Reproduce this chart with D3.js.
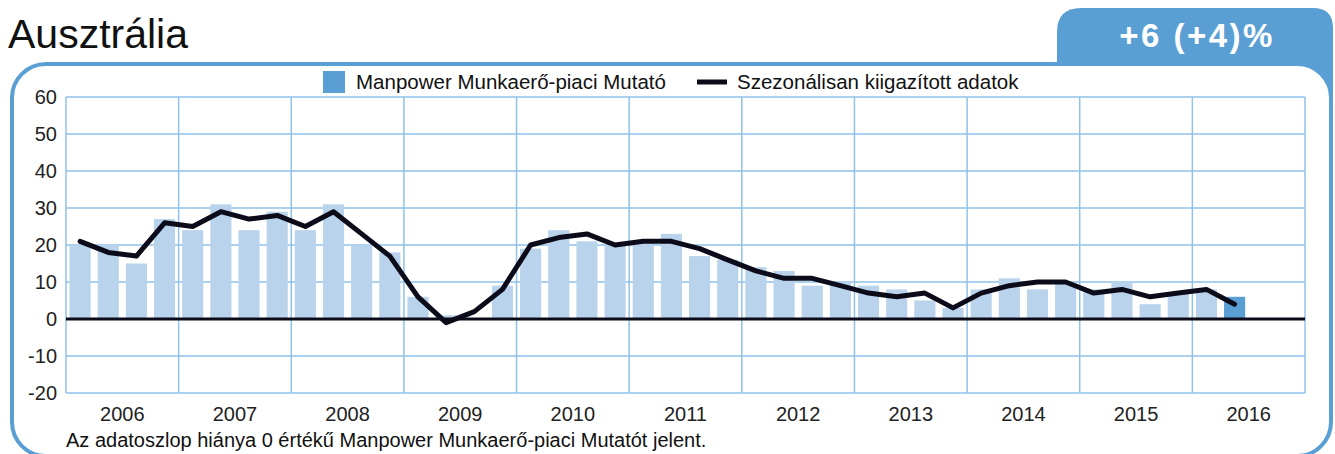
<!DOCTYPE html>
<html>
<head>
<meta charset="utf-8">
<script src="https://cdn.jsdelivr.net/npm/d3@7"></script>
<style>
  body { margin: 0; background: #fff; }
  svg { display: block; font-family: "Liberation Sans", Arial, sans-serif; }
</style>
</head>
<body>
<svg id="chart" width="1335" height="454"></svg>
<script>
// quarters 2006 Q1 .. 2016 Q4
var years = ["2006","2007","2008","2009","2010","2011","2012","2013","2014","2015","2016"];
var quarters = [];
years.forEach(function(y) { [1,2,3,4].forEach(function(q) { quarters.push(y + "Q" + q); }); });

// Manpower Munkaerő-piaci Mutató (bars), 2006Q1 - 2016Q2
var mmiValues = [20,20,15,27, 24,31,24,29, 24,31,20,18, 6,1,0,9,
                 19,24,21,20, 21,23,17,16, 14,13,9,10, 9,8,5,3,
                 8,11,8,10, 8,10,4,7, 8,6];
// Szezonálisan kiigazított adatok (line)
var saValues = [21,18,17,26, 25,29,27,28, 25,29,23,17, 6,-1,2,8,
                20,22,23,20, 21,21,19,16, 13,11,11,9, 7,6,7,3,
                7,9,10,10, 7,8,6,7, 8,4];
var yTicks = [-20,-10,0,10,20,30,40,50,60];

var svg = d3.select("#chart");
var blue = "#5a9fd4", lightBlue = "#b8d3eb", gridBlue = "#90c2e8", ink = "#0b0b1a";

var margin = {left: 66, right: 30, top: 97, bottom: 62};
var width = 1305 - margin.left, height = 393 - margin.top;

// tab + frame
svg.append("path")
  .attr("d", "M1057,120 L1057,32 Q1057,8 1081,8 L1313,8 Q1333,8 1333,28 L1333,120 Z")
  .attr("fill", blue);
svg.append("rect")
  .attr("x", 12).attr("y", 64).attr("width", 1319).attr("height", 392)
  .attr("rx", 34).attr("ry", 34)
  .attr("fill", "#fff").attr("stroke", blue).attr("stroke-width", 4);

svg.append("text").attr("x", 8).attr("y", 48)
  .style("font-size", "41px").style("fill", "#111")
  .text("Ausztrália");
svg.append("text").attr("x", 1197).attr("y", 47)
  .attr("text-anchor", "middle")
  .style("font-size", "33px").style("font-weight", "bold").style("fill", "#fff")
  .style("letter-spacing", "2.5px")
  .text("+6 (+4)%");

// legend
var legend = svg.append("g");
legend.append("rect").attr("x", 323).attr("y", 71).attr("width", 22).attr("height", 22).attr("fill", blue);
legend.append("text").attr("x", 356).attr("y", 89).style("font-size", "20.5px").style("fill", "#111")
  .text("Manpower Munkaerő-piaci Mutató");
legend.append("line").attr("x1", 697).attr("x2", 727).attr("y1", 82).attr("y2", 82)
  .attr("stroke", ink).attr("stroke-width", 5);
legend.append("text").attr("x", 737).attr("y", 89).style("font-size", "20.5px").style("fill", "#111")
  .text("Szezonálisan kiigazított adatok");

var g = svg.append("g").attr("transform", "translate(" + margin.left + "," + margin.top + ")");

var x = d3.scaleBand().domain(quarters).range([0, width]).paddingInner(0.25).paddingOuter(0.125);
var xYear = d3.scaleBand().domain(years).range([0, width]);
var y = d3.scaleLinear().domain([-20, 60]).range([height, 0]);

// grid
g.selectAll(".hgrid").data(yTicks).enter().append("line")
  .attr("x1", 0).attr("x2", width)
  .attr("y1", function(d) { return y(d); }).attr("y2", function(d) { return y(d); })
  .attr("stroke", gridBlue).attr("stroke-width", 1.5);
g.selectAll(".vgrid").data(years.concat(["end"])).enter().append("line")
  .attr("x1", function(d, i) { return i * xYear.step(); })
  .attr("x2", function(d, i) { return i * xYear.step(); })
  .attr("y1", 0).attr("y2", height)
  .attr("stroke", gridBlue).attr("stroke-width", 1.5);

// y axis labels
g.selectAll(".ylab").data(yTicks).enter().append("text")
  .attr("x", -9).attr("y", function(d) { return y(d) + 7; })
  .attr("text-anchor", "end")
  .style("font-size", "20px").style("fill", "#222")
  .text(function(d) { return d; });

// x axis labels
g.selectAll(".xlab").data(years).enter().append("text")
  .attr("x", function(d) { return xYear(d) + xYear.bandwidth() / 2; })
  .attr("y", height + 28)
  .attr("text-anchor", "middle")
  .style("font-size", "20px").style("fill", "#222")
  .text(function(d) { return d; });

// bars
g.selectAll(".bar").data(mmiValues).enter().append("rect")
  .attr("class", "bar")
  .attr("x", function(d, i) { return x(quarters[i]); })
  .attr("width", x.bandwidth())
  .attr("y", function(d) { return y(Math.max(d, 0)); })
  .attr("height", function(d) { return Math.abs(y(d) - y(0)); })
  .attr("fill", function(d, i) { return i === mmiValues.length - 1 ? blue : lightBlue; });

// zero line
g.append("line").attr("x1", 0).attr("x2", width).attr("y1", y(0)).attr("y2", y(0))
  .attr("stroke", ink).attr("stroke-width", 3);

// seasonally adjusted line
var line = d3.line()
  .x(function(d, i) { return x(quarters[i]) + x.bandwidth() / 2; })
  .y(function(d) { return y(d); });
g.append("path").datum(saValues)
  .attr("d", line)
  .attr("fill", "none").attr("stroke", ink).attr("stroke-width", 5)
  .attr("stroke-linejoin", "round").attr("stroke-linecap", "round");

svg.append("text").attr("x", 66).attr("y", 447)
  .style("font-size", "20px").style("fill", "#111")
  .text("Az adatoszlop hiánya 0 értékű Manpower Munkaerő-piaci Mutatót jelent.");
</script>
</body>
</html>
